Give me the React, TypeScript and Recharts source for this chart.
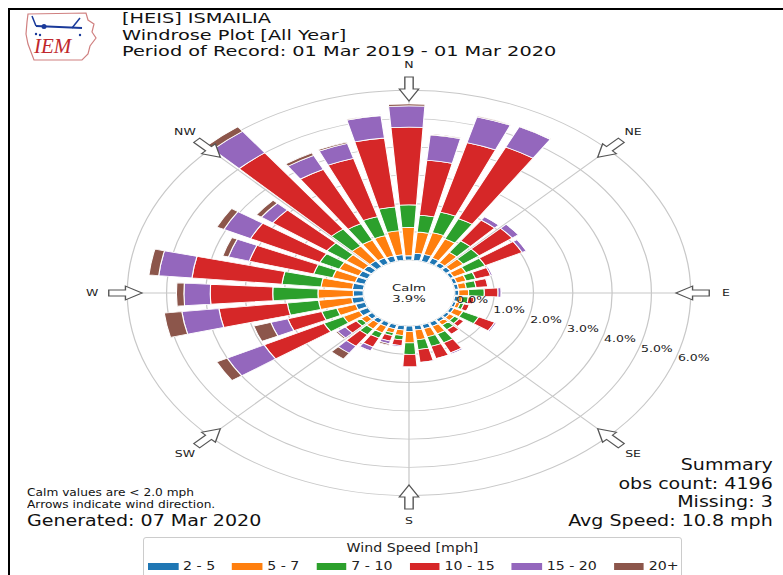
import React from 'react';
import {
  RadialBarChart,
  RadialBar,
  PolarAngleAxis,
  PolarRadiusAxis,
  PolarGrid,
} from 'recharts';

// wind directions (degrees), one bar every 10
const directions = [
  0, 10, 20, 30, 40, 50, 60, 70, 80, 90, 100, 110, 120, 130, 140, 150, 160, 170,
  180, 190, 200, 210, 220, 230, 240, 250, 260, 270, 280, 290, 300, 310, 320, 330, 340, 350,
];

// frequency (%) per speed bin, same order as directions
const bin2to5 = [
  0.15, 0.25, 0.25, 0.2, 0.15, 0.15, 0.1, 0.1, 0.1, 0.1, 0.1, 0.08, 0.1, 0.1, 0.1, 0.15, 0.15, 0.15,
  0.2, 0.15, 0.15, 0.15, 0.15, 0.15, 0.25, 0.25, 0.3, 0.25, 0.28, 0.25, 0.25, 0.25, 0.25, 0.22, 0.2, 0.2,
];
const bin5to7 = [
  1.0, 0.75, 0.8, 0.75, 0.45, 0.4, 0.35, 0.25, 0.2, 0.25, 0.1, 0.1, 0.25, 0.15, 0.15, 0.3, 0.3, 0.35,
  0.4, 0.2, 0.15, 0.25, 0.25, 0.2, 0.45, 0.5, 0.85, 0.9, 0.8, 0.6, 0.55, 0.55, 0.65, 0.7, 0.75, 0.85,
];
const bin7to10 = [
  0.8, 0.6, 0.75, 0.8, 0.5, 0.5, 0.55, 0.25, 0.25, 0.4, 0.15, 0.1, 0.45, 0.15, 0.2, 0.35, 0.35, 0.35,
  0.4, 0.15, 0.1, 0.2, 0.25, 0.15, 0.55, 0.4, 0.8, 1.15, 1.0, 0.5, 0.55, 0.6, 0.75, 0.65, 0.7, 0.85,
];
const bin10to15 = [
  2.75, 1.95, 2.55, 2.8, 0.9, 1.05, 1.05, 0.4, 0.3, 0.35, 0.15, 0.15, 0.45, 0.15, 0.2, 0.4, 0.45, 0.45,
  0.45, 0.2, 0.2, 0.35, 0.5, 0.35, 1.7, 0.9, 1.75, 1.59, 2.3, 1.7, 1.95, 1.7, 3.35, 2.15, 2.15, 2.45,
];
const bin15to20 = [
  0.75, 0.9, 0.95, 0.8, 0.15, 0.2, 0.12, 0.05, 0.03, 0.08, 0, 0, 0.05, 0, 0.02, 0.05, 0.03, 0.02,
  0.03, 0.05, 0.1, 0.15, 0.3, 0.25, 1.05, 0.45, 0.95, 0.67, 0.85, 0.55, 0.75, 0.35, 0.95, 0.55, 0.55, 0.8,
];
const bin20plus = [
  0.07, 0.03, 0.03, 0.02, 0, 0, 0, 0, 0, 0, 0, 0, 0, 0, 0, 0, 0, 0,
  0, 0, 0.05, 0.02, 0.25, 0.05, 0.3, 0.45, 0.45, 0.19, 0.25, 0.15, 0.2, 0.15, 0.2, 0.1, 0.05, 0.03,
];

const speedBins = ['2 - 5', '5 - 7', '7 - 10', '10 - 15', '15 - 20', '20+'];
const binColors = ['#1f77b4', '#ff7f0e', '#2ca02c', '#d62728', '#9467bd', '#8c564b'];
const binValues = [bin2to5, bin5to7, bin7to10, bin10to15, bin15to20, bin20plus];

const compassTicks = [0, 45, 90, 135, 180, 225, 270, 315];
const compassNames = ['N', 'NE', 'E', 'SE', 'S', 'SW', 'W', 'NW'];
const pctTicks = [0, 1, 2, 3, 4, 5, 6];
const calmPct = 3.9;

const data = directions.map((deg, i) => {
  const row: Record<string, number> = { deg };
  binValues.forEach((vals, b) => {
    row['s' + b] = vals[i];
  });
  return row;
});

const FONT = '"DejaVu Sans", sans-serif';
const STRETCH = 1.39;
const W = 540;
const H = 500;

// label + hollow arrow at each compass point
const CompassTick = (props: any) => {
  const { x, y, payload } = props;
  const a = (payload.coordinate * Math.PI) / 180;
  const ux = Math.cos(a);
  const uy = -Math.sin(a);
  const tx = x - 6 * ux;
  const ty = y - 6 * uy;
  const rot = 180 - payload.coordinate;
  const name = compassNames[compassTicks.indexOf(payload.value)];
  return (
    <g>
      <path
        d="M0,-3 L12,-3 L12,-7 L24,0 L12,7 L12,3 L0,3 Z"
        transform={`translate(${tx},${ty}) rotate(${rot})`}
        fill="#fff"
        stroke="#555"
        strokeWidth={1}
      />
      <text
        x={x + 6 * ux}
        y={y + 6 * uy}
        textAnchor="middle"
        dominantBaseline="central"
        fontSize={9}
        fontFamily={FONT}
        fill="#222"
      >
        {name}
      </text>
    </g>
  );
};

const RadiusTick = (props: any) => {
  const { x, y, payload } = props;
  return (
    <text x={x + 3} y={y - 1} fontSize={9} fontFamily={FONT} fill="#222" textAnchor="start">
      {payload.value.toFixed(1)}%
    </text>
  );
};

const Logo = () => (
  <svg width={80} height={56} style={{ position: 'absolute', left: 22, top: 8 }}>
    <path
      d="M6,6 L64,5 L66,12 L72,16 L70,24 L74,30 L68,38 L66,46 L60,52 L12,52 L9,44 L6,36 L4,26 L5,14 Z"
      fill="none"
      stroke="#d08080"
      strokeWidth={1.2}
    />
    <line x1={14} y1={18} x2={60} y2={20} stroke="#1a3a9a" strokeWidth={2} />
    <line x1={14} y1={18} x2={10} y2={8} stroke="#1a3a9a" strokeWidth={1.5} />
    <line x1={50} y1={20} x2={58} y2={10} stroke="#1a3a9a" strokeWidth={1.5} />
    <circle cx={22} cy={18.5} r={2.5} fill="#1a3a9a" />
    <circle cx={14} cy={26} r={1.2} fill="#1a3a9a" />
    <circle cx={18} cy={27} r={1.2} fill="#1a3a9a" />
    <circle cx={58} cy={27} r={1.2} fill="#1a3a9a" />
    <text x={12} y={45} fontFamily="Liberation Serif, serif" fontStyle="italic" fontSize={21} fill="#c0282d">
      IEM
    </text>
  </svg>
);

const textBlock: React.CSSProperties = {
  position: 'absolute',
  fontFamily: FONT,
  color: '#111',
  whiteSpace: 'nowrap',
};

export default function App() {
  return (
    <div
      style={{
        position: 'absolute',
        left: 0,
        top: 0,
        width: 783,
        height: 575,
        background: '#fff',
        overflow: 'hidden',
      }}
    >
      {/* frame */}
      <div style={{ position: 'absolute', left: 8, top: 8, width: 780, height: 2, background: '#000' }} />
      <div style={{ position: 'absolute', left: 8, top: 8, width: 2, height: 570, background: '#000' }} />

      <Logo />
      <div
        style={{
          ...textBlock,
          left: 122,
          top: 10,
          fontSize: 14.2,
          lineHeight: '16.5px',
          transform: 'scaleX(1.36)',
          transformOrigin: 'left top',
        }}
      >
        <div>[HEIS] ISMAILIA</div>
        <div>Windrose Plot [All Year]</div>
        <div>Period of Record: 01 Mar 2019 - 01 Mar 2020</div>
      </div>

      {/* wind rose */}
      <div
        style={{
          position: 'absolute',
          left: 408.5 - W / 2,
          top: 293 - H / 2,
          width: W,
          height: H,
          transform: `scaleX(${STRETCH})`,
          transformOrigin: `${W / 2}px ${H / 2}px`,
        }}
      >
        <RadialBarChart
          width={W}
          height={H}
          cx={W / 2}
          cy={H / 2}
          innerRadius={33}
          outerRadius={214}
          startAngle={90}
          endAngle={-270}
          layout="centric"
          data={data}
          margin={{ top: 0, right: 0, bottom: 0, left: 0 }}
        >
          <PolarAngleAxis
            type="number"
            dataKey="deg"
            domain={[0, 360]}
            ticks={compassTicks}
            tick={<CompassTick />}
            tickLine={false}
            axisLine={false}
          />
          <PolarRadiusAxis
            type="number"
            domain={[0, 6.4]}
            ticks={pctTicks}
            angle={-20}
            tick={<RadiusTick />}
            axisLine={false}
            tickLine={false}
          />
          <PolarRadiusAxis
            radiusAxisId="frame"
            type="number"
            domain={[0, 6.4]}
            ticks={[0, 6.4]}
            tick={false}
            axisLine={false}
            tickLine={false}
          />
          {speedBins.map((name, b) => (
            <RadialBar
              key={name}
              name={name}
              dataKey={'s' + b}
              stackId="wind"
              fill={binColors[b]}
              stroke="#fff"
              strokeWidth={0.8}
              barSize={8}
              isAnimationActive={false}
            />
          ))}
          <PolarGrid gridType="circle" stroke="#c8c8c8" strokeWidth={0.9} />
          <PolarGrid gridType="circle" radiusAxisId="frame" radialLines={false} stroke="#000" strokeWidth={1} />
        </RadialBarChart>
        <div
          style={{
            position: 'absolute',
            left: W / 2,
            top: H / 2,
            transform: 'translate(-50%, -50%)',
            fontFamily: FONT,
            fontSize: 9.5,
            lineHeight: '11px',
            textAlign: 'center',
            color: '#222',
          }}
        >
          <div>Calm</div>
          <div>{calmPct.toFixed(1)}%</div>
        </div>
      </div>

      {/* notes */}
      <div
        style={{
          ...textBlock,
          left: 27,
          top: 486.5,
          fontSize: 10.8,
          lineHeight: '12.5px',
          transform: 'scaleX(1.13)',
          transformOrigin: 'left top',
        }}
      >
        <div>Calm values are &lt; 2.0 mph</div>
        <div>Arrows indicate wind direction.</div>
      </div>
      <div
        style={{
          ...textBlock,
          left: 27,
          top: 511.5,
          fontSize: 15,
          lineHeight: '18px',
          transform: 'scaleX(1.27)',
          transformOrigin: 'left top',
        }}
      >
        Generated: 07 Mar 2020
      </div>
      <div
        style={{
          ...textBlock,
          right: 10,
          top: 456,
          fontSize: 15.8,
          lineHeight: '18.5px',
          textAlign: 'right',
          transform: 'scaleX(1.205)',
          transformOrigin: 'right top',
        }}
      >
        <div>Summary</div>
        <div>obs count: 4196</div>
        <div>Missing: 3</div>
        <div>Avg Speed: 10.8 mph</div>
      </div>

      {/* legend */}
      <div
        style={{
          position: 'absolute',
          left: 143,
          top: 537,
          width: 537,
          height: 60,
          border: '1px solid #ccc',
          borderRadius: 3,
          fontFamily: FONT,
          fontSize: 12,
          color: '#222',
        }}
      >
        <div
          style={{
            position: 'absolute',
            left: 0,
            right: 0,
            top: 3,
            textAlign: 'center',
            lineHeight: '14px',
            transform: 'scaleX(1.18)',
          }}
        >
          Wind Speed [mph]
        </div>
        <div
          style={{
            position: 'absolute',
            left: 4,
            top: 21,
            display: 'flex',
            alignItems: 'center',
            lineHeight: '14px',
            transform: 'scaleX(1.18)',
            transformOrigin: 'left top',
          }}
        >
          {speedBins.map((name, b) => (
            <div key={name} style={{ display: 'flex', alignItems: 'center', marginRight: 14.4 }}>
              <div style={{ width: 25.5, height: 7, background: binColors[b], marginRight: 4.2 }} />
              <span style={{ whiteSpace: 'pre' }}>{name}</span>
            </div>
          ))}
        </div>
      </div>
    </div>
  );
}
